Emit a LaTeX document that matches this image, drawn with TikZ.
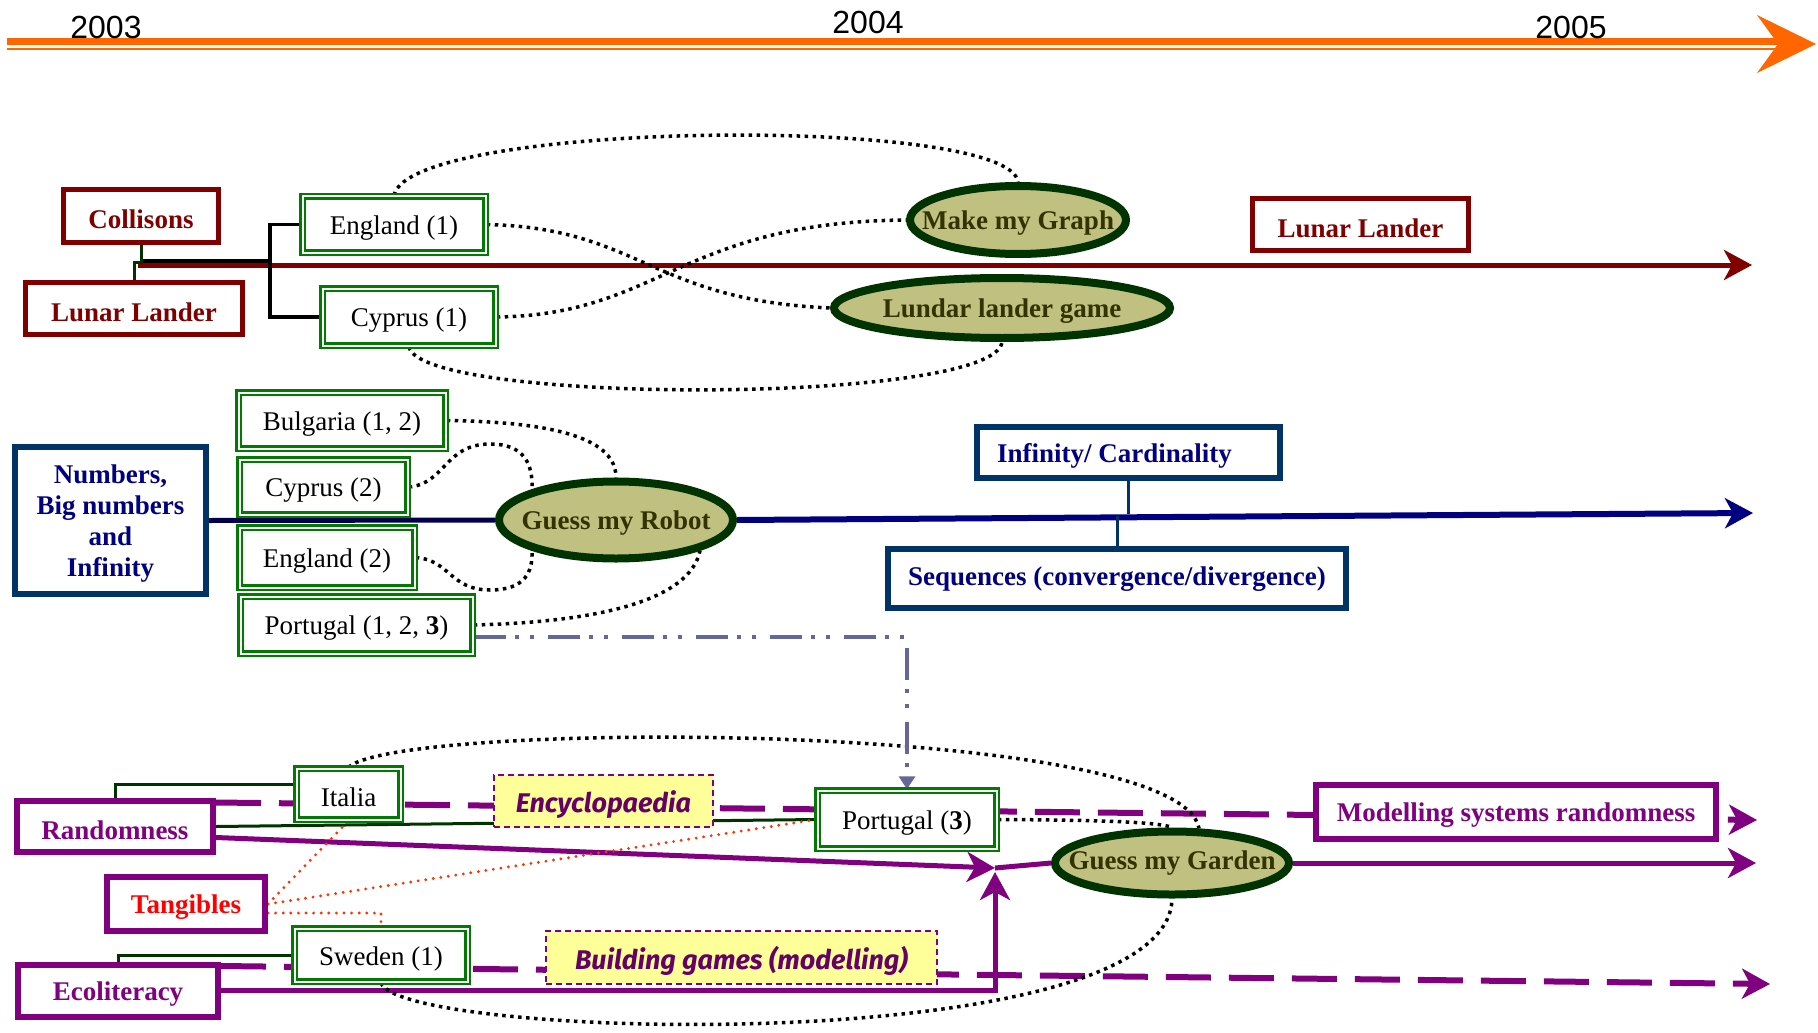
\documentclass[tikz,border=0pt]{standalone}
\usepackage{fontspec}
\setmainfont{Liberation Serif}
\newfontfamily\yearfont{Liberation Sans}
\newfontfamily\comicfont{Fira Sans}
\usetikzlibrary{arrows.meta,calc,shapes.geometric}
\pgfdeclarelayer{bg}
\pgfsetlayers{bg,main}
\definecolor{orangeT}{HTML}{FF6600}
\definecolor{maroonC}{HTML}{800000}
\definecolor{dkg}{HTML}{003300}
\definecolor{gbord}{HTML}{007A00}
\definecolor{elB}{HTML}{003300}
\definecolor{elF}{HTML}{C0C080}
\definecolor{elT}{HTML}{333300}
\definecolor{navyT}{HTML}{000080}
\definecolor{navyB}{HTML}{003366}
\definecolor{purp}{HTML}{800080}
\definecolor{yel}{HTML}{FFFF99}
\definecolor{ytext}{HTML}{660066}
\definecolor{redT}{HTML}{FF0000}
\definecolor{redD}{HTML}{FF3300}
\definecolor{dashdotC}{HTML}{666699}
\newcommand\myfs{\fontsize{13.5pt}{15.5pt}\selectfont}
\newcommand\lowr[1]{\raisebox{-1.75pt}[\height][\depth]{#1}}
\begin{document}
\begin{tikzpicture}[x=0.5pt,y=-0.5pt,
  sz/.style 2 args={minimum width=#1, minimum height=#2},
  year/.style={font=\yearfont\fontsize{16pt}{18pt}\selectfont, inner sep=0pt},
  mbox/.style={draw=maroonC, line width=2.5pt, fill=white, text=maroonC, font=\bfseries\myfs, inner sep=0pt},
  gbox/.style={draw=gbord, double=white, double distance=1pt, line width=1.25pt, fill=white, font=\myfs, inner sep=0pt},
  nbox/.style={draw=navyB, line width=3pt, fill=white, text=navyT, font=\bfseries\myfs, inner sep=0pt},
  pbox/.style={draw=purp, line width=3pt, fill=white, text=purp, font=\bfseries\myfs, inner sep=0pt},
  ybox/.style={draw=purp, dash pattern=on 3pt off 2pt, line width=1pt, fill=yel, text=ytext, font=\comicfont\bfseries\itshape\myfs, inner sep=0pt},
  ell/.style={ellipse, draw=elB, line width=4pt, fill=elF, text=elT, font=\bfseries\myfs, inner sep=0pt},
  dotblk/.style={black, line width=1.75pt, dash pattern=on 1.75pt off 2.25pt},
  dotred/.style={redD, line width=1.6pt, line cap=round, dash pattern=on 0pt off 3.8pt},
  maroonline/.style={maroonC, line width=2.5pt},
  blkline/.style={black, line width=1.6pt},
  dkgline/.style={dkg, line width=1.5pt},
  navyline/.style={navyT, line width=3pt},
  navyconn/.style={navyB, line width=1.5pt},
  pdash/.style={purp, line width=3pt, dash pattern=on 22.5pt off 9pt},
  psolid/.style={purp, line width=2.5pt},
  dashdot/.style={dashdotC, line width=2pt, dash pattern=on 16pt off 4.5pt on 2pt off 5.5pt on 2pt off 7pt},
  tipS/.style={-{Stealth[length=14pt,width=15pt,inset=4pt]}}
]
\useasboundingbox (0,0) rectangle (1818,1032);

% timeline
\fill[orangeT] (7,38) rectangle (1780,45);
\fill[orangeT] (7,47.7) rectangle (1780,50);
\fill[orangeT] (1757,15) -- (1816,44) -- (1757,73) -- (1778,44) -- cycle;
\node[year] (y2003) at (106,27) {2003};
\node[year] (y2004) at (868,22) {2004};
\node[year] (y2005) at (1571,27) {2005};

% section 1
\node[mbox, sz={77.5pt}{26.5pt}] (Collisons) at (141,216) {\lowr{Collisons}};
\node[mbox, sz={108.5pt}{26pt}] (LunarL) at (134,308.5) {\lowr{Lunar Lander}};
\node[mbox, sz={108pt}{26pt}] (LunarR) at (1360.5,224.5) {\lowr{Lunar Lander}};
\node[gbox, sz={91.5pt}{28pt}] (England1) at (394,224.5) {\lowr{England (1)}};
\node[gbox, sz={86.5pt}{28.5pt}] (Cyprus1) at (409,317) {\lowr{Cyprus (1)}};
\node[ell, sz={108pt}{34pt}] (MakeGraph) at (1018,220) {\makebox[0pt]{\lowr{Make my Graph}}};
\node[ell, sz={168pt}{30pt}] (Lundar) at (1002,308) {\makebox[0pt]{\lowr{Lundar lander game}}};
\coordinate (a1) at (1752,265);
\coordinate (br) at (270,261);

% section 2
\node[nbox, sz={95.5pt}{73.5pt}] (Numbers) at (110.5,520.5) {\lowr{\begin{tabular}{@{}c@{}}Numbers,\\Big numbers\\and\\Infinity\end{tabular}}};
\node[nbox, sz={151.5pt}{25.5pt}] (Infinity) at (1128.5,452.5) {\lowr{Infinity/ Cardinality}\hspace*{14pt}};
\node[nbox, sz={229pt}{29.5pt}] (Sequences) at (1117,578.5) {\raisebox{-0.5pt}[\height][\depth]{Sequences (convergence/divergence)}};
\node[gbox, sz={103.5pt}{28pt}] (Bulgaria) at (342,420.5) {\lowr{Bulgaria (1, 2)}};
\node[gbox, sz={84pt}{27.5pt}] (Cyprus2) at (323.5,487) {\lowr{Cyprus (2)}};
\node[gbox, sz={87.5pt}{30pt}] (England2) at (327,557.5) {\lowr{England (2)}};
\node[gbox, sz={116pt}{28.5pt}] (Portugal123) at (356.5,625) {\lowr{Portugal (1, 2, \textbf{3})}};
\node[ell, sz={117pt}{38.5pt}] (Robot) at (616,520) {\makebox[0pt]{\lowr{Guess my Robot}}};
\coordinate (a2) at (1753,513);

% section 3
\node[pbox, sz={98pt}{25.5pt}] (Randomness) at (115,826.5) {\lowr{Randomness}};
\node[pbox, sz={79pt}{27pt}, text=redT] (Tangibles) at (186,904) {\lowr{Tangibles}};
\node[pbox, sz={100pt}{26pt}] (Ecoliteracy) at (118,991) {\lowr{Ecoliteracy}};
\node[gbox, sz={52pt}{25.5pt}] (Italia) at (348.5,794) {\lowr{Italia}};
\node[gbox, sz={86.5pt}{26.5pt}] (Sweden) at (381,955) {\lowr{Sweden (1)}};
\node[ybox, sz={109.5pt}{26pt}] (Encyclopaedia) at (603.5,801) {\lowr{Encyclopaedia}};
\node[ybox, sz={195.5pt}{26.5pt}] (Building) at (741.5,957.5) {\lowr{Building games (modelling)}};
\node[gbox, sz={89.5pt}{29pt}] (Portugal3) at (907,819.5) {\lowr{Portugal (\textbf{3})}};
\node[ell, sz={117pt}{31.5pt}] (Garden) at (1172,863) {\makebox[0pt]{Guess my Garden}};
\node[pbox, sz={200pt}{27pt}] (Modelling) at (1516,812) {\lowr{Modelling systems randomness}};
\coordinate (J) at (995,868);
\coordinate (a3) at (1757,820);
\coordinate (a4) at (1770,984);
\coordinate (a5) at (1756,863);

\begin{pgfonlayer}{bg}
% section 1 lines
\draw[maroonline, tipS] ($(Collisons.south)+(-3,20)$) -- (a1);
\draw[blkline] ($(Collisons.south)+(0,16)$) -- (br);
\draw[blkline] (England1.west) -| (br) |- (Cyprus1.west);
\draw[dkgline] (Collisons.south) -- ++(0,17) -| (LunarL.north);
\draw[dotblk] (England1.north) .. controls (410,120) and (1010,115) .. (MakeGraph.north);
\draw[dotblk] (England1.east) .. controls (640,228) and (650,300) .. (Lundar.west);
\draw[dotblk] (Cyprus1.east) .. controls (660,315) and (680,222) .. (MakeGraph.west);
\draw[dotblk] (Cyprus1.south) .. controls (420,405) and (995,405) .. (Lundar.south);

% section 2 lines
\draw[navyT!60!black, line width=2.5pt] (Numbers.east) -- (Robot.west);
\draw[navyline, tipS] (Robot.east) -- (a2);
\draw[navyconn] (Infinity.south) -- ++(0,33);
\draw[navyconn] (Sequences.north) -- ++(0,-30);
\draw[dotblk] (Bulgaria.east) .. controls (560,422) and (616,440) .. (Robot.north);
\draw[dotblk] (Cyprus2.east) .. controls (445,484) and (445,444) .. (490,444) .. controls (525,444) and (533,465) .. (Robot.160);
\draw[dotblk] (England2.east) .. controls (450,560) and (450,590) .. (490,590) .. controls (525,590) and (533,572) .. (Robot.200);
\draw[dotblk] (Portugal123.east) .. controls (600,622) and (690,600) .. (Robot.-20);

% section 3 lines
\draw[pdash, tipS] ($(Randomness.east)+(0,-24)$) -- (a3);
\draw[pdash, tipS] ($(Ecoliteracy.east)+(0,-25)$) -- (a4);
\draw[dkgline] (Randomness.north) |- ($(Italia.west)+(0,-10)$);
\draw[dkgline] (Randomness.east) -- (Portugal3.west);
\draw[dkgline] (Ecoliteracy.north) |- (Sweden.west);
\draw[psolid, tipS] ($(Randomness.east)+(0,11)$) -- (J);
\draw[psolid, tipS] ($(Ecoliteracy.east)+(0,-1)$) -| ($(J)+(0,4)$);
\draw[psolid] (J) -- (Garden.west);
\draw[psolid, tipS] (Garden.east) -- (a5);
\draw[dotred] (Tangibles.east) -- (Italia.south);
\draw[dotred] (Tangibles.east) -- (Portugal3.west);
\draw[dotred] ($(Tangibles.east)+(0,9)$) -| (Sweden.north);
\draw[dotblk] (Italia.north) .. controls (400,720) and (1180,720) .. (Garden.52);
\draw[dotblk] (Portugal3.east) .. controls (1100,820) and (1160,822) .. (Garden.north);
\draw[dotblk] (Sweden.south) .. controls (400,1040) and (1170,1060) .. (Garden.south);
\draw[dashdot, -{Triangle[length=6.5pt,width=8pt]}] ($(Portugal123.south east)+(0,-18)$) -| (Portugal3.north);
\end{pgfonlayer}
\end{tikzpicture}
\end{document}
